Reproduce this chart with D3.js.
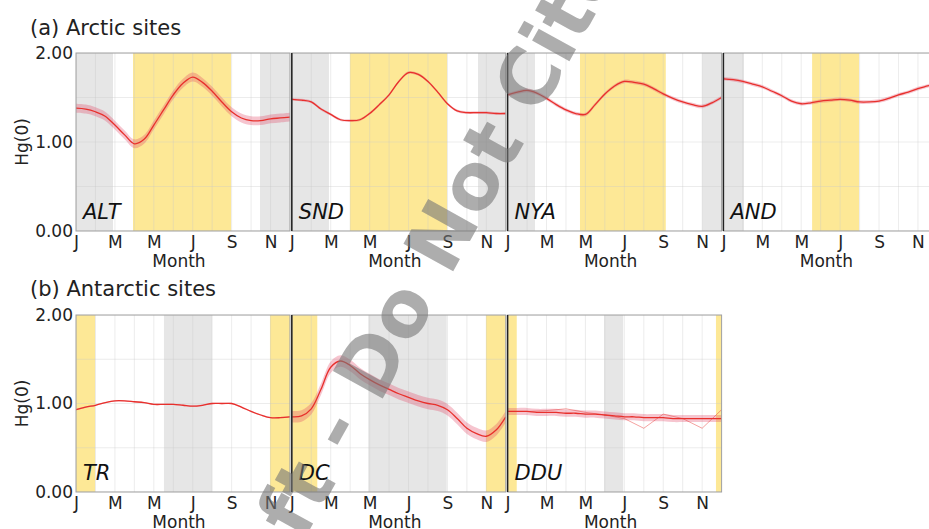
<!DOCTYPE html>
<html>
<head>
<meta charset="utf-8">
<script src="https://cdn.jsdelivr.net/npm/d3@7"></script>
<style>
  body { margin: 0; background: #fff; }
  svg text { font-family: "DejaVu Sans", sans-serif; }
</style>
</head>
<body>
<svg id="chart" width="929" height="529"></svg>
<script>
// Half-monthly sampling grid (month number 1 = Jan ... 12 = Dec)
const monthGrid = [1, 1.5, 2, 2.5, 3, 3.5, 4, 4.5, 5, 5.5, 6, 6.5, 7, 7.5, 8, 8.5, 9, 9.5, 10, 10.5, 11, 11.5, 12];
const monthTicks = [1, 3, 5, 7, 9, 11];
const monthTickLabels = ["J", "M", "M", "J", "S", "N"];
const monthlyGrid = [1, 2, 3, 4, 5, 6, 7, 8, 9, 10, 11, 12];
const yTicks = [0, 1, 2];
const yGridLines = [0, 0.5, 1, 1.5, 2];

// Arctic sites: mean seasonal Hg(0) (ng m-3)
const altValues = [1.38, 1.37, 1.34, 1.29, 1.19, 1.08, 0.98, 1.03, 1.19, 1.36, 1.53, 1.66, 1.73, 1.67, 1.57, 1.45, 1.34, 1.27, 1.24, 1.24, 1.26, 1.27, 1.28];
const sndValues = [1.48, 1.47, 1.45, 1.37, 1.31, 1.25, 1.24, 1.25, 1.32, 1.42, 1.53, 1.68, 1.78, 1.76, 1.68, 1.56, 1.43, 1.35, 1.33, 1.33, 1.33, 1.32, 1.32];
const nyaValues = [1.53, 1.56, 1.58, 1.55, 1.49, 1.42, 1.36, 1.32, 1.31, 1.42, 1.54, 1.63, 1.68, 1.67, 1.65, 1.60, 1.54, 1.49, 1.45, 1.42, 1.40, 1.44, 1.50];
const andValues = [1.71, 1.70, 1.68, 1.65, 1.62, 1.57, 1.52, 1.46, 1.43, 1.44, 1.46, 1.47, 1.48, 1.47, 1.45, 1.45, 1.46, 1.49, 1.53, 1.56, 1.60, 1.63, 1.66];

// Antarctic sites
const trValues  = [0.93, 0.96, 0.98, 1.01, 1.03, 1.03, 1.02, 1.01, 0.99, 0.99, 0.99, 0.98, 0.97, 0.98, 1.00, 1.00, 1.00, 0.96, 0.91, 0.87, 0.84, 0.84, 0.85];
const dcValues  = [0.85, 0.86, 0.94, 1.16, 1.41, 1.48, 1.43, 1.34, 1.27, 1.21, 1.16, 1.11, 1.07, 1.03, 1.00, 0.98, 0.93, 0.83, 0.72, 0.66, 0.63, 0.70, 0.85];
const dduValues = [0.91, 0.91, 0.91, 0.90, 0.90, 0.90, 0.89, 0.89, 0.88, 0.88, 0.87, 0.86, 0.85, 0.85, 0.84, 0.84, 0.84, 0.83, 0.83, 0.83, 0.83, 0.83, 0.83];
const dduMonthlyObs = [0.91, 0.91, 0.92, 0.94, 0.90, 0.87, 0.83, 0.72, 0.88, 0.83, 0.72, 0.93];

// Half-width of the spread envelope around each mean curve
const altSpread = 0.05, sndSpread = 0.015, nyaSpread = 0.02, andSpread = 0.02;
const trSpread = 0.008, dcSpread = 0.065, dduSpread = 0.04;

// Polar night (grey) and polar day (yellow) periods, in month numbers
const altNight = [[1, 2.90], [10.46, 12]], altDay = [[3.93, 8.97]];
const sndNight = [[1, 2.91], [10.57, 12]], sndDay = [[3.99, 8.98]];
const nyaNight = [[1, 2.41], [11.0, 12]],  nyaDay = [[4.72, 9.13]];
const andNight = [[1, 2.06]],              andDay = [[5.56, 7.97]];
const trNight  = [[5.52, 7.99]],           trDay  = [[1, 1.98], [10.97, 12]];
const dcNight  = [[4.93, 8.96]],           dcDay  = [[1, 2.31], [10.98, 12]];
const dduNight = [[5.96, 6.94]],           dduDay = [[1, 1.47], [11.71, 12]];

const rowTitles = ["(a) Arctic sites", "(b) Antarctic sites"];

const sites = [
  { name: "ALT", row: 0, col: 0, values: altValues, spread: altSpread, night: altNight, day: altDay },
  { name: "SND", row: 0, col: 1, values: sndValues, spread: sndSpread, night: sndNight, day: sndDay },
  { name: "NYA", row: 0, col: 2, values: nyaValues, spread: nyaSpread, night: nyaNight, day: nyaDay },
  { name: "AND", row: 0, col: 3, values: andValues, spread: andSpread, night: andNight, day: andDay },
  { name: "TR",  row: 1, col: 0, values: trValues,  spread: trSpread,  night: trNight,  day: trDay },
  { name: "DC",  row: 1, col: 1, values: dcValues,  spread: dcSpread,  night: dcNight,  day: dcDay },
  { name: "DDU", row: 1, col: 2, values: dduValues, spread: dduSpread, night: dduNight, day: dduDay, obs: dduMonthlyObs }
];

// Layout
const originX = 76, panelStep = 215.8, panelW = 214;
const rowTop = [53, 315], panelH = [178, 177];
const titleY = [35, 296];

const COLORS = {
  day: "#fde896",
  night: "#e6e6e6",
  grid: "#c8c8c8",
  frame: "#a0a0a0",
  line: "#e8302c",
  band: "#e04060",
  text: "#222"
};

const svg = d3.select("#chart");

const x = d3.scaleLinear().domain([1, 12]).range([0, panelW]);
const yScales = panelH.map(h => d3.scaleLinear().domain([0, 2]).range([h, 0]));

// Row titles
rowTitles.forEach((t, i) => {
  svg.append("text")
    .attr("x", 30).attr("y", titleY[i])
    .attr("font-size", 21).attr("fill", COLORS.text)
    .text(t);
});

sites.forEach(s => {
  const left = originX + s.col * panelStep;
  const top = rowTop[s.row];
  const h = panelH[s.row];
  const y = yScales[s.row];
  const g = svg.append("g").attr("transform", `translate(${left},${top})`);

  const clipId = "clip-" + s.name;
  g.append("clipPath").attr("id", clipId)
    .append("rect").attr("width", panelW).attr("height", h);
  const plot = g.append("g").attr("clip-path", `url(#${clipId})`);

  // Polar night / polar day shading
  plot.selectAll("rect.night").data(s.night).join("rect")
    .attr("class", "night")
    .attr("x", d => x(d[0])).attr("width", d => x(d[1]) - x(d[0]))
    .attr("y", 0).attr("height", h)
    .attr("fill", COLORS.night);
  plot.selectAll("rect.day").data(s.day).join("rect")
    .attr("class", "day")
    .attr("x", d => x(d[0])).attr("width", d => x(d[1]) - x(d[0]))
    .attr("y", 0).attr("height", h)
    .attr("fill", COLORS.day);

  // Grid
  plot.selectAll("line.vg").data(monthlyGrid).join("line")
    .attr("class", "vg")
    .attr("x1", d => x(d)).attr("x2", d => x(d))
    .attr("y1", 0).attr("y2", h)
    .attr("stroke", COLORS.grid).attr("stroke-opacity", 0.35);
  plot.selectAll("line.hg").data(yGridLines).join("line")
    .attr("class", "hg")
    .attr("x1", 0).attr("x2", panelW)
    .attr("y1", d => y(d)).attr("y2", d => y(d))
    .attr("stroke", COLORS.grid).attr("stroke-opacity", 0.35);

  const pts = monthGrid.map((m, i) => ({ m, v: s.values[i] }));

  // Spread envelope
  const band = d3.area()
    .x(d => x(d.m))
    .y0(d => y(d.v - s.spread))
    .y1(d => y(d.v + s.spread))
    .curve(d3.curveCatmullRom);
  plot.append("path").datum(pts)
    .attr("d", band)
    .attr("fill", COLORS.band).attr("fill-opacity", 0.3);

  // Monthly observations (thin line)
  if (s.obs) {
    const obsLine = d3.line().x((d, i) => x(monthlyGrid[i])).y(d => y(d));
    plot.append("path").datum(s.obs)
      .attr("d", obsLine)
      .attr("fill", "none")
      .attr("stroke", COLORS.line).attr("stroke-opacity", 0.5)
      .attr("stroke-width", 0.9);
  }

  // Mean curve
  const line = d3.line().x(d => x(d.m)).y(d => y(d.v)).curve(d3.curveCatmullRom);
  plot.append("path").datum(pts)
    .attr("d", line)
    .attr("fill", "none")
    .attr("stroke", COLORS.line)
    .attr("stroke-width", 1.3);

  // Frame
  g.append("rect")
    .attr("width", panelW).attr("height", h)
    .attr("fill", "none")
    .attr("stroke", COLORS.frame).attr("stroke-width", 1);
  if (s.col > 0) {
    g.append("line")
      .attr("x1", 0).attr("x2", 0).attr("y1", 0).attr("y2", h)
      .attr("stroke", "#222").attr("stroke-width", 1.5);
  }

  // Site label
  g.append("text")
    .attr("x", 7).attr("y", h - 12)
    .attr("font-size", 21).attr("font-style", "italic")
    .attr("fill", "#111")
    .text(s.name);

  // X axis
  const xAxis = d3.axisBottom(x)
    .tickValues(monthTicks)
    .tickFormat((d, i) => monthTickLabels[i])
    .tickSize(0).tickPadding(5);
  const xg = g.append("g").attr("transform", `translate(0,${h})`).call(xAxis);
  xg.select(".domain").remove();
  xg.selectAll("text").attr("font-size", 17).attr("font-family", "DejaVu Sans").attr("fill", COLORS.text);

  g.append("text")
    .attr("x", panelW / 2 - 4).attr("y", h + 36)
    .attr("text-anchor", "middle")
    .attr("font-size", 17).attr("fill", COLORS.text)
    .text("Month");

  // Y axis on the first panel of each row
  if (s.col === 0) {
    const yAxis = d3.axisLeft(y)
      .tickValues(yTicks)
      .tickFormat(d3.format(".2f"))
      .tickSize(0).tickPadding(3);
    const yg = g.append("g").call(yAxis);
    yg.select(".domain").remove();
    yg.selectAll("text").attr("font-size", 17).attr("font-family", "DejaVu Sans").attr("fill", COLORS.text);

    g.append("text")
      .attr("transform", `translate(${-48},${h / 2}) rotate(-90)`)
      .attr("text-anchor", "middle")
      .attr("font-size", 17).attr("fill", COLORS.text)
      .text("Hg(0)");
  }
});

// Watermark
svg.append("text")
  .attr("transform", "translate(425,322) rotate(-61)")
  .attr("text-anchor", "middle")
  .attr("font-size", 78)
  .attr("font-weight", "bold")
  .attr("fill", "#777")
  .attr("fill-opacity", 0.6)
  .text("Draft - Do Not Cite");
</script>
</body>
</html>
